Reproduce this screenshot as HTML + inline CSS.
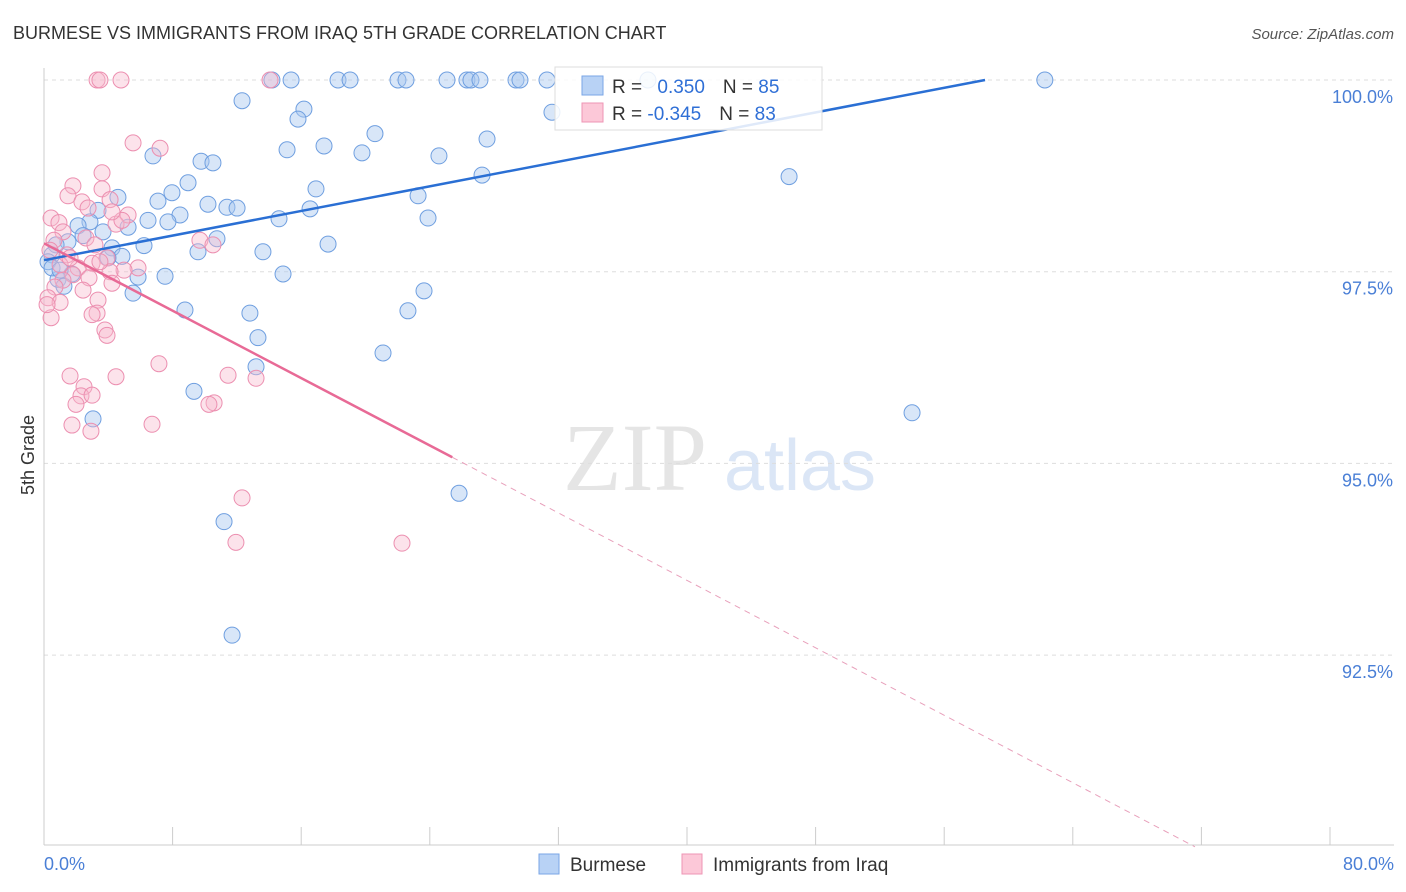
<!DOCTYPE html>
<html><head><meta charset="utf-8"><style>
body{margin:0;background:#fff;font-family:"Liberation Sans",sans-serif;}
svg{display:block}
</style></head><body>
<svg id="chart" width="1406" height="892" xmlns="http://www.w3.org/2000/svg">
<text x="13" y="39" font-size="18" fill="#333">BURMESE VS IMMIGRANTS FROM IRAQ 5TH GRADE CORRELATION CHART</text>
<text x="1394" y="39" font-size="15" fill="#555" text-anchor="end" font-style="italic">Source: ZipAtlas.com</text>
<text transform="translate(34,455) rotate(-90)" font-size="18" fill="#333" text-anchor="middle">5th Grade</text>
<g opacity="0.5">
<text x="635" y="490" font-size="96" fill="#ccc" font-family="Liberation Serif,serif" text-anchor="middle">ZIP</text>
<text x="800" y="490" font-size="72" fill="#b8cfee" text-anchor="middle">atlas</text>
</g>
<g id="grid"></g>
<g id="marks"></g>
<g id="lines"></g>
<g>
<rect x="555" y="67" width="267" height="63" fill="#fff" fill-opacity="0.85" stroke="#ddd"/>
<rect x="582" y="76" width="21" height="19" fill="#b8d2f5" stroke="#7aa6e6"/>
<rect x="582" y="103" width="21" height="19" fill="#fcc8d8" stroke="#ee95b4"/>
<text x="612" y="93" font-size="19" fill="#333">R = <tspan fill="#2f6fd6" dx="10">0.350</tspan><tspan fill="#333" dx="18">N = </tspan><tspan fill="#2f6fd6">85</tspan></text>
<text x="612" y="120" font-size="19" fill="#333">R = <tspan fill="#2f6fd6">-0.345</tspan><tspan fill="#333" dx="18">N = </tspan><tspan fill="#2f6fd6">83</tspan></text>
</g>
<g>
<rect x="539" y="854" width="20" height="20" fill="#b8d2f5" stroke="#7aa6e6"/>
<text x="570" y="871" font-size="19" fill="#333">Burmese</text>
<rect x="682" y="854" width="20" height="20" fill="#fcc8d8" stroke="#ee95b4"/>
<text x="713" y="871" font-size="19" fill="#333">Immigrants from Iraq</text>
</g>
</svg>
<script>
const yTicks=[100,97.5,95,92.5];
const yTickLabels=["100.0%","97.5%","95.0%","92.5%"];
const xTickVals=[0,8,16,24,32,40,48,56,64,72,80];
const blueX=[14.18,15.37,18.29,19.04,22.02,22.52,25.07,26.31,26.56,27.12,29.36,29.61,31.29,37.57,62.26,12.32,16.17,15.80,31.60,20.59,27.56,17.42,15.12,19.78,24.57,6.78,9.77,10.51,27.25,46.35,8.96,16.92,7.96,4.60,7.09,23.27,10.20,11.38,12.01,16.55,3.36,8.46,6.47,7.71,23.89,14.62,2.86,2.12,5.23,3.67,2.43,10.76,17.67,6.22,4.23,1.49,0.75,9.58,13.62,0.50,4.85,3.98,0.25,5.85,7.53,14.87,1.74,0.87,1.24,5.54,23.64,8.77,22.64,12.81,13.31,21.09,13.19,9.33,54.00,3.05,25.82,11.20,11.70,0.50,1.00];
const blueY=[100,100,100,100,100,100,100,100,100,100,100,100,100,100,100,99.73,99.62,99.49,99.58,99.30,99.23,99.14,99.09,99.05,99.01,99.01,98.94,98.92,98.76,98.74,98.66,98.58,98.53,98.47,98.42,98.49,98.38,98.34,98.33,98.32,98.30,98.24,98.17,98.15,98.20,98.19,98.15,98.10,98.08,98.02,97.97,97.93,97.86,97.84,97.81,97.89,97.85,97.76,97.76,97.72,97.70,97.68,97.63,97.43,97.44,97.47,97.47,97.40,97.31,97.22,97.25,97.00,96.99,96.96,96.64,96.44,96.26,95.94,95.66,95.58,94.61,94.24,92.76,97.55,97.52];
const pinkX=[3.30,3.48,4.79,14.06,5.54,7.22,3.61,1.80,3.61,1.49,0.44,4.11,2.36,2.74,5.23,0.93,4.48,4.85,4.23,1.18,0.62,2.61,9.70,10.51,0.37,1.43,3.92,2.99,5.85,2.12,4.98,4.11,1.80,1.18,2.80,4.23,0.68,2.43,3.36,0.25,1.00,3.30,2.99,3.79,3.92,0.44,1.62,4.48,11.45,13.19,7.15,2.49,2.30,1.99,10.58,10.26,2.99,1.74,2.92,6.72,12.32,11.94,22.27,1.00,1.62,3.17,3.48,0.19];
const pinkY=[100,100,100,100,99.18,99.11,98.79,98.62,98.58,98.49,98.20,98.44,98.41,98.33,98.24,98.14,98.12,98.17,98.28,98.02,97.91,97.94,97.91,97.85,97.78,97.72,97.68,97.61,97.55,97.55,97.52,97.50,97.46,97.39,97.42,97.35,97.30,97.26,97.13,97.16,97.10,96.96,96.94,96.74,96.67,96.90,96.14,96.13,96.15,96.11,96.30,96.00,95.88,95.77,95.79,95.77,95.89,95.50,95.42,95.51,94.55,93.97,93.96,97.59,97.68,97.85,97.63,97.07];
const blueLine=[[0,97.65],[58.54,100]];
const pinkLine=[[0,97.87],[25.4,95.08],[71.6,90]];
const NS="http://www.w3.org/2000/svg";
const sx=v=>44+v/80*1286;
const sy=v=>80+(100-v)/2.5*191.7;
function mk(tag,attrs,parent){const e=document.createElementNS(NS,tag);for(const k in attrs)e.setAttribute(k,attrs[k]);parent.appendChild(e);return e;}
const grid=document.getElementById('grid');
yTicks.forEach((t,i)=>{
 const l=mk('line',{x1:44,x2:1394,y1:sy(t),y2:sy(t),stroke:'#ddd','stroke-dasharray':'4,4'},grid);
 
 
 const tx=mk('text',{x:1393,y:sy(t)+23,'font-size':18,fill:'#4a7fd6','text-anchor':'end'},grid);
 tx.textContent=yTickLabels[i];
 
 
});
const ax=mk('line',{x1:44,x2:44,y1:68,y2:845,stroke:'#ccc'},grid);


const bx=mk('line',{x1:44,x2:1394,y1:845,y2:845,stroke:'#ccc'},grid);


xTickVals.forEach(v=>{const t=mk('line',{x1:sx(v),x2:sx(v),y1:827,y2:845,stroke:'#ccc'},grid);
 
 });
const x0=mk('text',{x:44,y:870,'font-size':18,fill:'#4a7fd6'},grid);x0.textContent='0.0%';


const x1=mk('text',{x:1394,y:870,'font-size':18,fill:'#4a7fd6','text-anchor':'end'},grid);x1.textContent='80.0%';


const marks=document.getElementById('marks');
blueX.forEach((x,i)=>{const c=mk('circle',{cx:sx(x),cy:sy(blueY[i]),r:8,fill:'#a9c8f0','fill-opacity':0.45,stroke:'#6f9fe0','stroke-width':1},marks);
 
 });
pinkX.forEach((x,i)=>{const c=mk('circle',{cx:sx(x),cy:sy(pinkY[i]),r:8,fill:'#f8b8cc','fill-opacity':0.4,stroke:'#ec8fb0','stroke-width':1},marks);
 
 });
const lines=document.getElementById('lines');
const bl=mk('line',{x1:sx(blueLine[0][0]),y1:sy(blueLine[0][1]),x2:sx(blueLine[1][0]),y2:sy(blueLine[1][1]),stroke:'#2a6fd4','stroke-width':2.5},lines);


const pl=mk('line',{x1:sx(pinkLine[0][0]),y1:sy(pinkLine[0][1]),x2:sx(pinkLine[1][0]),y2:sy(pinkLine[1][1]),stroke:'#e86a96','stroke-width':2.5},lines);


const pd=mk('line',{x1:sx(pinkLine[1][0]),y1:sy(pinkLine[1][1]),x2:sx(pinkLine[2][0]),y2:sy(pinkLine[2][1]),stroke:'#e8a0bb','stroke-width':1,'stroke-dasharray':'6,5'},lines);


</script>
</body></html>
